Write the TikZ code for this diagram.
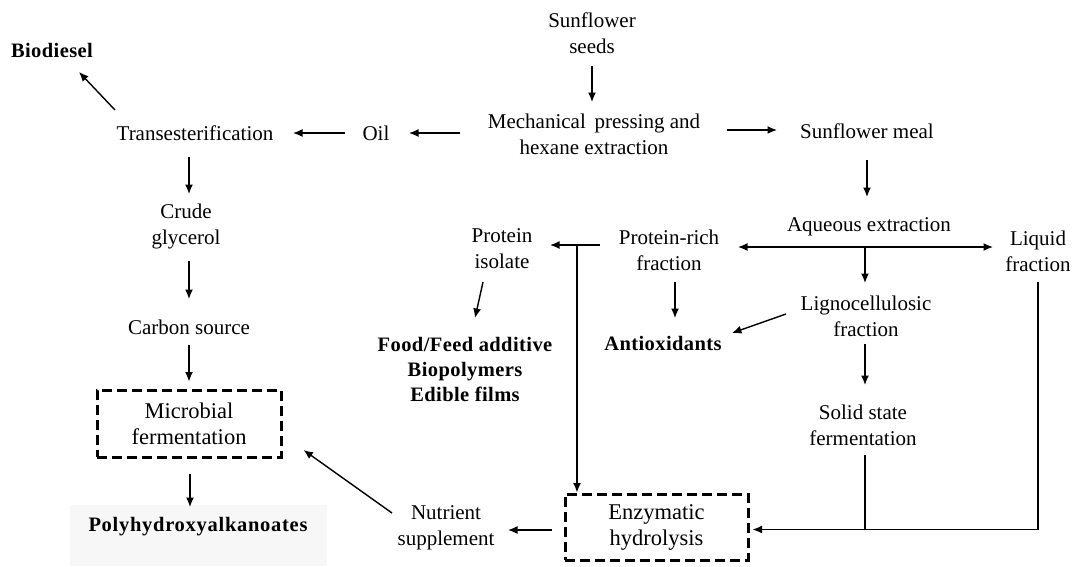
\documentclass[tikz,border=0pt]{standalone}
\usepackage{fontspec}
\setmainfont{Liberation Serif}
\usetikzlibrary{arrows.meta,calc}

\begin{document}
\begin{tikzpicture}[x=1pt,y=-1pt,
  txt/.style={align=center,inner sep=0pt,font=\fontsize{21}{26}\selectfont},
  prod/.style={align=center,inner sep=0pt,
    font=\fontsize{20.5}{25}\selectfont\bfseries\addfontfeature{LetterSpace=2}},
  dbox/.style={draw,dash pattern=on 10pt off 5pt,line width=3pt,align=center,
    inner sep=0pt,font=\fontsize{22.5}{26}\selectfont},
  link/.style={line width=1.4pt},
  arr/.style={link,-{Latex[length=9.5pt,width=8pt]}},
  arrs/.style={link,{Latex[length=9.5pt,width=8pt]}-{Latex[length=9.5pt,width=8pt]}}
]
\useasboundingbox (0,0) rectangle (1072,566);

% shaded backdrop behind the PHA product
\node[fill=black!3,minimum width=257pt,minimum height=61pt,inner sep=0pt]
  (phabg) at (198.5,535.5) {};

% process steps and products
\node[txt] (seeds)  at (592,33.5)  {Sunflower\\seeds};
\node[txt] (mech)   at (594,134)   {Mechanical\, pressing and\\hexane extraction};
\node[txt] (oil)    at (376,133)   {Oil};
\node[txt] (trans)  at (195,133)   {Transesterification};
\node[prod] (bio)   at (52,50)     {Biodiesel};
\node[txt] (crude)  at (186,226)   {Crude\\glycerol};
\node[txt] (carbon) at (189,327)   {Carbon source};
\node[dbox,minimum width=184pt,minimum height=67pt] (micro) at (189,423.5)
  {Microbial\\fermentation};
\node[prod,font=\fontsize{20.5}{25}\selectfont\bfseries\addfontfeature{LetterSpace=3.5}]
  (pha) at (198,527) {Polyhydroxyalkanoates};
\node[txt] (meal)   at (867,131)   {Sunflower meal};
\node[txt] (aq)     at (869,227)   {Aqueous extraction};
\node[txt] (prich)  at (669,250.5) {Protein-rich\\fraction};
\node[txt] (liquid) at (1038,251)  {Liquid\\fraction};
\node[txt] (ligno)  at (866,316.5) {Lignocellulosic\\fraction};
\node[prod] (antiox) at (663,343)  {Antioxidants};
\node[txt] (pisol)  at (502,249)   {Protein\\isolate};
\node[prod] (food)  at (465,369.5) {Food/Feed additive\\Biopolymers\\Edible films};
\node[txt] (ssf)    at (863,425)   {Solid state\\fermentation};
\node[dbox,minimum width=183pt,minimum height=66pt] (enz) at (656.5,527)
  {Enzymatic\\hydrolysis};
\node[txt] (nutr)   at (446,527.5) {Nutrient\\supplement};

% oil branch
\draw[arr] ($(seeds)+(0,32.5)$) -- ($(seeds|-mech)+(0,-32)$);
\draw[arr] ($(oil-|mech)+(-134,0)$) -- ($(oil)+(33,0)$);
\draw[arr] ($(oil)+(-31,0)$) -- ($(trans|-oil)+(98,0)$);
\draw[arr] ($(trans)+(-80,-23)$) -- ($(bio)+(27,22)$);
\draw[arr] ($(carbon|-trans)+(0,24)$) -- ($(carbon|-crude)+(0,-32)$);
\draw[arr] ($(carbon|-crude)+(0,35)$) -- ($(carbon)+(0,-28)$);
\draw[arr] ($(carbon)+(0,18)$) -- ($(micro.north)+(0,-7)$);
\draw[arr] ($(micro.south)+(1,15)$) -- ($(micro.south|-pha)+(1,-20)$);

% meal branch
\draw[arr] ($(mech|-meal)+(133,-1)$) -- ($(meal)+(-90,-1)$);
\draw[arr] ($(meal)+(0,29)$) -- ($(meal|-aq)+(0,-30)$);
\coordinate (aqj) at ($(aq)+(-4,20)$);
\draw[arrs] ($(prich|-aqj)+(69,0)$) -- ($(liquid|-aqj)+(-45,0)$);
\draw[arr] (aqj) -- ($(aqj|-ligno)+(0,-33.5)$);

% protein-rich fraction
\coordinate (pj) at ($(prich)+(-92,-5.5)$);
\draw[arr] ($(prich)+(-69,-5.5)$) -- ($(pisol|-pj)+(48,0)$);
\draw[arr] (pj) -- (pj|-enz.north);
\draw[arr] ($(prich)+(6,31.5)$) -- ($(antiox)+(12,-25)$);
\draw[arr] ($(pisol)+(-19,33)$) -- ($(food)+(10,-51.5)$);

% lignocellulosic fraction
\draw[arr] ($(ligno)+(-80,-2.5)$) -- ($(antiox)+(69,-10)$);
\draw[arr] ($(ligno)+(-1,27.5)$) -- ($(ssf)+(2,-40)$);
\draw[link] ($(ssf)+(2,30)$) -- ++(0,74.5);
\draw[arr] ($(liquid)+(0,31)$) |- ($(enz.east)+(3,2.5)$);

% hydrolysate to fermentation
\draw[arr] ($(enz.west)+(-12,3)$) -- ($(nutr|-enz)+(62,3)$);
\draw[arr] ($(nutr)+(-54,-14.5)$) -- ($(micro.east)+(21,26.5)$);
\end{tikzpicture}
\end{document}
